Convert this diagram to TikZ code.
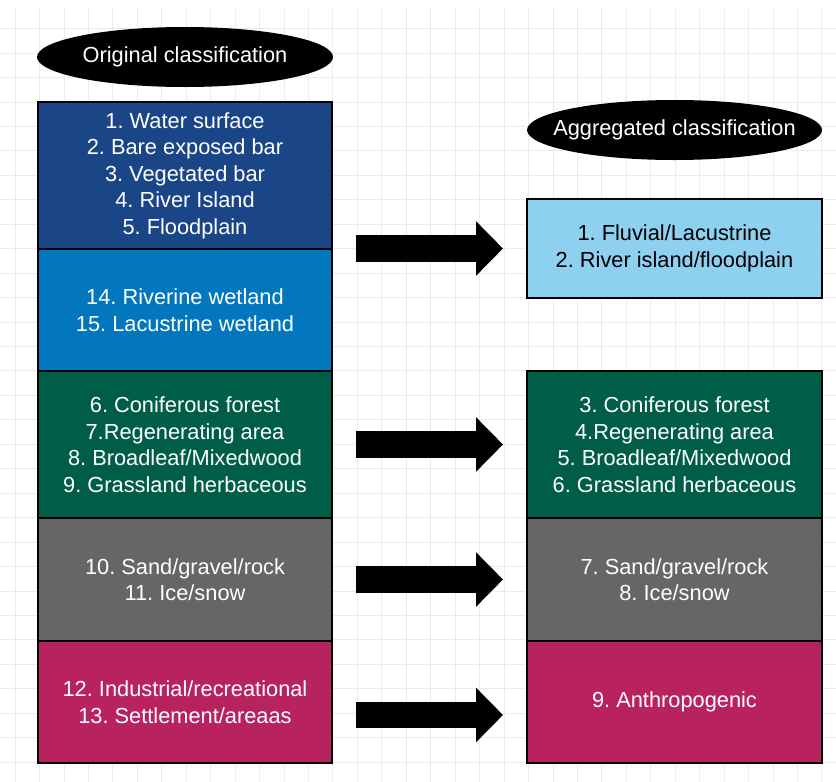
\documentclass[tikz,border=0pt]{standalone}
\usepackage{fontspec}
\setmainfont{Liberation Sans}
\usetikzlibrary{shapes.geometric,arrows.meta}

\definecolor{waterblue}{HTML}{1A4586}
\definecolor{wetblue}{HTML}{0277BD}
\definecolor{forestgreen}{HTML}{005E48}
\definecolor{rockgray}{HTML}{666666}
\definecolor{humanred}{HTML}{B8235F}
\definecolor{lightwater}{HTML}{8ED0EF}
\definecolor{gridgray}{HTML}{EBEBEB}

\frenchspacing

\begin{document}
\begin{tikzpicture}[x=1pt, y=-1pt,
		classbox/.style={draw=black, line width=2pt, text=white, align=center,
			minimum width=294pt, inner sep=0pt, font=\fontsize{21.8}{26.5}\selectfont},
		header/.style={ellipse, fill=black, text=white, minimum width=296pt,
			minimum height=60pt, inner ysep=0pt, inner xsep=-30pt, font=\fontsize{21.8}{26.5}\selectfont},
		bigarrow/.style={line width=26.5pt, -{Triangle[length=27pt, width=53pt]},
			shorten <=23pt, shorten >=23pt}]
		\useasboundingbox (0,0) rectangle (836,782);
		\fill[white] (0,0) rectangle (836,782);
		% grid
		\foreach \i in {0,...,33}
			\draw[gridgray, line width=0.8pt] (15+24.45*\i, 9) -- (15+24.45*\i, 782);
		\foreach \j in {1,...,31}
			\draw[gridgray, line width=0.8pt] (0, 4.1+24.45*\j) -- (836, 4.1+24.45*\j);
		% headers
		\node[header] (orig) at (185, 57) {Original classification};
		\node[header, minimum width=295pt] (agg) at (674.5, 130) {Aggregated classification};
		% original classes
		\node[classbox, fill=waterblue, minimum height=147pt] (water) at (185, 175.5)
			{1. Water surface\\2. Bare exposed bar\\3. Vegetated bar\\4. River Island\\5. Floodplain};
		\node[classbox, fill=wetblue, minimum height=122pt] (wetland) at (185, 310)
			{14. Riverine wetland\\15. Lacustrine wetland};
		\node[classbox, fill=forestgreen, minimum height=147pt] (forest) at (185, 444.5)
			{6. Coniferous forest\\7.Regenerating area\\8. Broadleaf/Mixedwood\\9. Grassland herbaceous};
		\node[classbox, fill=rockgray, minimum height=123pt] (rock) at (185, 579.5)
			{10. Sand/gravel/rock\\11. Ice/snow};
		\node[classbox, fill=humanred, minimum height=122pt] (human) at (185, 702)
			{12. Industrial/recreational\\13. Settlement/areaas};
		% aggregated classes
		\node[classbox, fill=lightwater, text=black, minimum width=295pt, minimum height=99pt] (aggwater) at (674.5, 248.5)
			{1. Fluvial/Lacustrine\\2. River island/floodplain};
		\node[classbox, fill=forestgreen, minimum width=295pt, minimum height=147pt] (aggforest) at (674.5, 444.5)
			{3. Coniferous forest\\4.Regenerating area\\5. Broadleaf/Mixedwood\\6. Grassland herbaceous};
		\node[classbox, fill=rockgray, minimum width=295pt, minimum height=123pt] (aggrock) at (674.5, 579.5)
			{7. Sand/gravel/rock\\8. Ice/snow};
		\node[classbox, fill=humanred, minimum width=295pt, minimum height=122pt] (agghuman) at (674.5, 702)
			{9. Anthropogenic};
		% arrows
		\draw[bigarrow] (water.east |- aggwater.west) -- (aggwater.west);
		\draw[bigarrow] (forest.east) -- (aggforest.west);
		\draw[bigarrow] (rock.east) -- (aggrock.west);
		\draw[bigarrow] ([yshift=-13pt]human.east) -- ([yshift=-13pt]agghuman.west);
	\end{tikzpicture}
\end{document}
